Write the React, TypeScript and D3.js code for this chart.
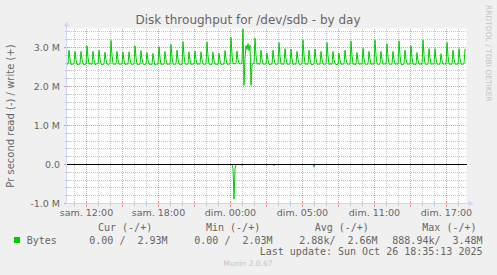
import React from "react";
import * as d3 from "d3";

const W = 497;
const H = 275;

// time base (UTC); 400 samples of 5 minutes
const START = Date.UTC(2025, 9, 25, 8, 20, 0);
const STEP_MS = 300 * 1000;
const N_SAMPLES = 400;

// write throughput, MB/s (positive side)
const writeMB = [
  2.57, 2.58, 2.93, 2.70, 2.56, 2.58,
  2.57, 2.59, 2.90, 2.68, 2.57, 2.56,
  2.58, 2.57, 2.90, 2.69, 2.58, 2.57,
  2.56, 2.58, 3.04, 2.74, 2.57, 2.59,
  2.58, 2.57, 2.90, 2.69, 2.56, 2.57,
  2.59, 2.58, 2.93, 2.71, 2.58, 2.56,
  2.57, 2.58, 2.88, 2.68, 2.57, 2.58,
  2.56, 2.59, 3.18, 2.80, 2.58, 2.57,
  2.58, 2.57, 2.90, 2.69, 2.57, 2.58,
  2.57, 2.58, 2.88, 2.67, 2.56, 2.58,
  2.58, 2.57, 2.89, 2.69, 2.58, 2.57,
  2.57, 2.58, 3.04, 2.75, 2.57, 2.56,
  2.58, 2.57, 2.92, 2.70, 2.58, 2.57,
  2.56, 2.58, 2.87, 2.67, 2.57, 2.58,
  2.57, 2.56, 2.85, 2.66, 2.55, 2.57,
  2.58, 2.57, 3.02, 2.73, 2.56, 2.58,
  2.57, 2.58, 2.90, 2.69, 2.57, 2.57,
  2.58, 2.57, 3.08, 2.76, 2.58, 2.57,
  2.57, 2.58, 2.93, 2.70, 2.57, 2.58,
  2.56, 2.57, 3.15, 2.79, 2.58, 2.57,
  2.58, 2.57, 2.89, 2.68, 2.56, 2.58,
  2.57, 2.58, 2.91, 2.69, 2.57, 2.58,
  2.58, 2.57, 2.89, 2.68, 2.58, 2.57,
  2.57, 2.58, 3.14, 2.78, 2.57, 2.58,
  2.56, 2.57, 2.88, 2.67, 2.57, 2.58,
  2.57, 2.56, 2.85, 2.66, 2.56, 2.57,
  2.58, 2.57, 2.92, 2.70, 2.57, 2.58,
  2.57, 2.58, 3.26, 2.82, 2.58, 2.59,
  2.58, 2.59, 2.91, 2.70, 2.59, 2.58,
  2.58, 2.60, 3.48, 2.03, 2.72, 3.05,
  2.95, 3.10, 2.92, 3.06, 2.03, 2.55,
  2.60, 2.58, 3.24, 2.80, 2.57, 2.59,
  2.58, 2.57, 2.93, 2.70, 2.57, 2.58,
  2.57, 2.58, 2.86, 2.67, 2.57, 2.56,
  2.58, 2.57, 2.93, 2.70, 2.58, 2.57,
  2.57, 2.58, 3.13, 2.78, 2.57, 2.58,
  2.58, 2.57, 2.97, 2.72, 2.57, 2.58,
  2.57, 2.58, 2.96, 2.71, 2.56, 2.58,
  2.58, 2.57, 2.90, 2.69, 2.58, 2.57,
  2.57, 2.58, 3.19, 2.80, 2.57, 2.58,
  2.58, 2.57, 2.93, 2.70, 2.57, 2.56,
  2.57, 2.58, 2.96, 2.71, 2.58, 2.57,
  2.58, 2.57, 2.90, 2.69, 2.57, 2.58,
  2.57, 2.58, 3.13, 2.78, 2.56, 2.58,
  2.58, 2.57, 2.90, 2.69, 2.58, 2.57,
  2.56, 2.57, 2.86, 2.67, 2.57, 2.58,
  2.57, 2.58, 2.93, 2.70, 2.58, 2.57,
  2.58, 2.57, 3.17, 2.79, 2.57, 2.58,
  2.57, 2.56, 2.87, 2.67, 2.57, 2.58,
  2.58, 2.57, 2.98, 2.72, 2.58, 2.57,
  2.57, 2.58, 2.90, 2.69, 2.56, 2.58,
  2.58, 2.57, 3.19, 2.80, 2.58, 2.57,
  2.57, 2.58, 2.90, 2.69, 2.57, 2.58,
  2.58, 2.57, 3.09, 2.76, 2.58, 2.57,
  2.57, 2.58, 2.90, 2.69, 2.57, 2.58,
  2.58, 2.57, 3.17, 2.79, 2.57, 2.56,
  2.57, 2.58, 2.93, 2.70, 2.58, 2.57,
  2.58, 2.57, 3.05, 2.74, 2.57, 2.58,
  2.57, 2.56, 2.87, 2.67, 2.57, 2.58,
  2.58, 2.57, 3.19, 2.80, 2.58, 2.57,
  2.57, 2.58, 2.97, 2.72, 2.57, 2.58,
  2.58, 2.57, 2.97, 2.71, 2.58, 2.57,
  2.57, 2.58, 2.84, 2.66, 2.57, 2.58,
  2.58, 2.57, 3.13, 2.78, 2.57, 2.58,
  2.57, 2.58, 2.93, 2.70, 2.58, 2.57,
  2.58, 2.57, 2.97, 2.72, 2.57, 2.58,
  2.57, 2.58, 2.95, 2.93,
];

// read throughput, MB/s (negative side): [sample index, value]; all other samples are 0
const readEvents: [number, number][] = [
  [166, -0.1],
  [167, -0.889],
  [168, -0.12],
  [175, -0.03],
  [200, -0.02],
  [207, -0.03],
  [247, -0.06],
];

const yMajorValues = [-1, 0, 1, 2, 3];
const yMajorLabels = ["-1.0 M", "0.0", "1.0 M", "2.0 M", "3.0 M"];
const yMinorStep = 0.2;
const Y_MIN = -1.0;
const Y_MAX = 3.487;

const xTickLabels = ["sam. 12:00", "sam. 18:00", "dim. 00:00", "dim. 05:00", "dim. 11:00", "dim. 17:00"];
const xTickTimes = [
  Date.UTC(2025, 9, 25, 10),
  Date.UTC(2025, 9, 25, 16),
  Date.UTC(2025, 9, 25, 22),
  Date.UTC(2025, 9, 26, 4),
  Date.UTC(2025, 9, 26, 10),
  Date.UTC(2025, 9, 26, 16),
];

const title = "Disk throughput for /dev/sdb - by day";
const yAxisTitle = "Pr second read (-) / write (+)";
const seriesName = "Bytes";
const legendHeaders = ["Cur (-/+)", "Min (-/+)", "Avg (-/+)", "Max (-/+)"];
const legendValues = ["0.00 /  2.93M", "0.00 /  2.03M", "2.88k/  2.66M", "888.94k/  3.48M"];
const lastUpdate = "Last update: Sun Oct 26 18:35:13 2025";
const watermark = "RRDTOOL / TOBI OETIKER";
const footer = "Munin 2.0.67";

const SANS = "'DejaVu Sans', Verdana, sans-serif";
const MONO = "'DejaVu Sans Mono', monospace";
const FONT_COLOR = "#666666";
const AXIS_COLOR = "#CFD6F8";
const GRID_COLOR = "#c6c6c6";
const MGRID_COLOR = "#e99a9a";
const LINE_COLOR = "#00CC00";

export default function App() {
  const left = 66.5;
  const right = 466.5;
  const top = 28.5;
  const bottom = 203.5;
  const end = START + N_SAMPLES * STEP_MS;

  const x = d3.scaleUtc().domain([new Date(START), new Date(end)]).range([left, right]);
  const y = d3.scaleLinear().domain([Y_MIN, Y_MAX]).range([bottom, top]);

  const snapY = (v: number) => Math.floor(y(v) + 0.01) + 0.5;

  const sampleTime = (i: number) => new Date(START + (i + 0.5) * STEP_MS);

  const writeData = writeMB.map((v, i) => ({ t: sampleTime(i), v }));
  const readMap = new Map(readEvents.map(([i, v]) => [i, v]));
  const readData = d3.range(N_SAMPLES).map((i) => ({ t: sampleTime(i), v: readMap.get(i) ?? 0 }));

  const line = d3
    .line<{ t: Date; v: number }>()
    .x((d) => x(d.t))
    .y((d) => y(d.v));

  const hours = d3.utcHour.range(new Date(START), new Date(end));
  const minorHours = hours.filter((h) => (h.getUTCHours() + 2) % 3 !== 0);
  const majorHours = hours.filter((h) => (h.getUTCHours() + 2) % 3 === 0);

  const yMinor = d3
    .range(Math.round((Y_MAX - Y_MIN) / yMinorStep) + 1)
    .map((k) => Y_MIN + k * yMinorStep)
    .filter((v) => v <= Y_MAX && Math.abs(v - Math.round(v)) > 1e-6);

  return (
    <svg
      width={W}
      height={H}
      style={{ position: "fixed", left: 0, top: 0, background: "#F0F0F0" }}
      xmlns="http://www.w3.org/2000/svg"
    >
      <rect x={0} y={0} width={W} height={H} fill="#F0F0F0" />
      <rect x={left} y={top} width={right - left} height={bottom - top} fill="#FFFFFF" />

      {/* minor grid */}
      <g stroke={GRID_COLOR} strokeWidth={1} strokeDasharray="1,1" shapeRendering="crispEdges">
        {yMinor.map((v, i) => (
          <line key={"ym" + i} x1={left} x2={right} y1={snapY(v)} y2={snapY(v)} />
        ))}
        {minorHours.map((h, i) => (
          <line key={"xm" + i} x1={x(h)} x2={x(h)} y1={top} y2={bottom} />
        ))}
        {yMinor.map((v, i) => (
          <line key={"ymt" + i} x1={left - 2} x2={left + 2} y1={snapY(v)} y2={snapY(v)} strokeDasharray="none" />
        ))}
        {minorHours.map((h, i) => (
          <line key={"xmt" + i} x1={x(h)} x2={x(h)} y1={bottom - 2} y2={bottom + 2} strokeDasharray="none" />
        ))}
      </g>
      {/* major grid */}
      <g stroke={MGRID_COLOR} strokeWidth={1} strokeDasharray="1,1" shapeRendering="crispEdges">
        {yMajorValues.map((v, i) => (
          <line key={"yM" + i} x1={left} x2={right} y1={snapY(v)} y2={snapY(v)} />
        ))}
        {majorHours.map((h, i) => (
          <line key={"xM" + i} x1={x(h)} x2={x(h)} y1={top} y2={bottom} />
        ))}
        {yMajorValues.map((v, i) => (
          <line key={"yMt" + i} x1={left - 3} x2={left + 3} y1={snapY(v)} y2={snapY(v)} strokeDasharray="none" />
        ))}
        {majorHours.map((h, i) => (
          <line key={"xMt" + i} x1={x(h)} x2={x(h)} y1={bottom - 3} y2={bottom + 3} strokeDasharray="none" />
        ))}
      </g>

      {/* data */}
      <path d={line(readData) ?? ""} fill="none" stroke={LINE_COLOR} strokeWidth={1} />
      <path d={line(writeData) ?? ""} fill="none" stroke={LINE_COLOR} strokeWidth={1} />
      <line x1={left} x2={right} y1={y(0)} y2={y(0)} stroke="#000000" strokeWidth={1} shapeRendering="crispEdges" />

      {/* axes */}
      <g stroke={AXIS_COLOR} strokeWidth={1} shapeRendering="crispEdges">
        <line x1={left} x2={right + 4} y1={bottom} y2={bottom} />
        <line x1={left} x2={left} y1={bottom} y2={top - 4} />
      </g>
      <path
        d={`M${right + 7},${bottom} L${right + 2},${bottom - 3} L${right + 2},${bottom + 3} Z`}
        fill={AXIS_COLOR}
      />
      <path d={`M${left},${top - 7} L${left - 3},${top - 2} L${left + 3},${top - 2} Z`} fill={AXIS_COLOR} />

      {/* y tick labels */}
      <g fontFamily={SANS} fontSize={9.5} fill={FONT_COLOR} textAnchor="end">
        {yMajorValues.map((v, i) => (
          <text key={"yl" + i} x={60} y={snapY(v) + 3.5}>
            {yMajorLabels[i]}
          </text>
        ))}
      </g>

      {/* x tick labels */}
      <g fontFamily={SANS} fontSize={9.5} fill={FONT_COLOR} textAnchor="middle">
        {xTickTimes.map((t, i) => (
          <text key={"xl" + i} x={x(new Date(t))} y={216}>
            {xTickLabels[i]}
          </text>
        ))}
      </g>

      {/* title */}
      <text x={248} y={24} fontFamily={SANS} fontSize={12} fill={FONT_COLOR} textAnchor="middle">
        {title}
      </text>
      <text
        transform={`translate(14,${(top + bottom) / 2}) rotate(-90)`}
        fontFamily={SANS}
        fontSize={10}
        fill={FONT_COLOR}
        textAnchor="middle"
      >
        {yAxisTitle}
      </text>
      <text transform="translate(486,5) rotate(90)" fontFamily={SANS} fontSize={7.5} fill="#c4c4c4">
        {watermark}
      </text>

      {/* legend */}
      <g fontFamily={MONO} fontSize={10} fill={FONT_COLOR} style={{ whiteSpace: "pre" }}>
        {legendHeaders.map((s, i) => (
          <text key={"lh" + i} x={[98, 206, 314.7, 422.3][i]} y={231} xmlSpace="preserve">
            {s}
          </text>
        ))}
        <rect x={14} y={237} width={6} height={6} fill={LINE_COLOR} />
        <text x={26.7} y={243.5}>
          {seriesName}
        </text>
        {legendValues.map((s, i) => (
          <text key={"lv" + i} x={[89.3, 194.3, 299.3, 392.3][i]} y={243.5} xmlSpace="preserve">
            {s}
          </text>
        ))}
        <text x={482.5} y={255.3} textAnchor="end" xmlSpace="preserve">
          {lastUpdate}
        </text>
      </g>
      <text x={248} y={266} fontFamily={SANS} fontSize={7.5} fill="#c4c4c4" textAnchor="middle">
        {footer}
      </text>
    </svg>
  );
}
